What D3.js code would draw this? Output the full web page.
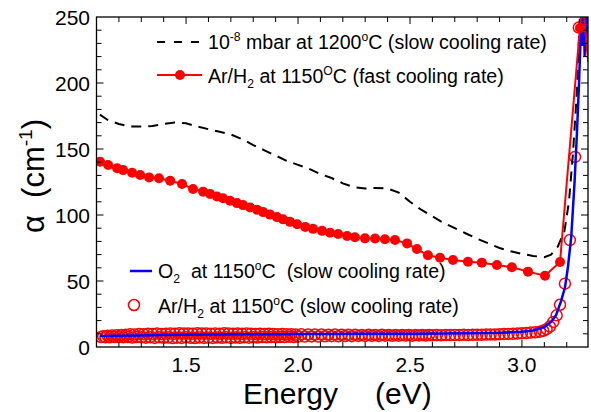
<!DOCTYPE html>
<html>
<head>
<meta charset="utf-8">
<script src="https://cdn.jsdelivr.net/npm/d3@7.9.0/dist/d3.min.js"></script>
<style>
	html, body { margin: 0; padding: 0; background: #fff; }
	svg { display: block; font-family: "Liberation Sans", Arial, Helvetica, sans-serif; }
	svg text { white-space: pre; }
</style>
</head>
<body>
<svg id="chart" width="591" height="412"></svg>
<script>
// 10^-8 mbar at 1200C, slow cooling (dashed black)
const vacEnergy = [1.115, 1.15, 1.2, 1.25, 1.3, 1.35, 1.4, 1.45, 1.5, 1.55, 1.6, 1.65, 1.7, 1.75, 1.8, 1.85, 1.9, 1.95, 2.0, 2.05, 2.1, 2.15, 2.2, 2.25, 2.3, 2.35, 2.4, 2.45, 2.5, 2.55, 2.6, 2.65, 2.7, 2.75, 2.8, 2.85, 2.9, 2.95, 3.0, 3.05, 3.1, 3.13, 3.16, 3.19, 3.21, 3.228, 3.246, 3.256, 3.264];
const vacAlpha = [176, 172, 169, 167, 167, 167.5, 169, 170, 169.5, 167, 165, 163, 161, 157.5, 153, 149, 145, 141, 138, 135, 131, 128, 124, 121, 120, 120.5, 120, 117, 110, 104, 99, 94, 90, 86, 82, 78.5, 75, 72.5, 70.5, 69, 68, 70, 76, 88, 110, 147, 195, 240, 268];

// Ar/H2 at 1150C, fast cooling (red line + filled dots)
const fastEnergy = [1.116, 1.152, 1.192, 1.219, 1.259, 1.295, 1.335, 1.379, 1.429, 1.482, 1.531, 1.576, 1.607, 1.638, 1.665, 1.696, 1.727, 1.754, 1.786, 1.817, 1.844, 1.875, 1.906, 1.933, 1.964, 1.996, 2.032, 2.067, 2.107, 2.143, 2.179, 2.219, 2.254, 2.299, 2.344, 2.388, 2.433, 2.487, 2.531, 2.58, 2.634, 2.692, 2.759, 2.821, 2.888, 2.955, 3.027, 3.103, 3.17, 3.259];
const fastAlpha = [140.4, 137.9, 135.4, 134, 132, 130.3, 128.5, 127.8, 126, 123.5, 119.7, 117.7, 116, 114, 112.7, 110.8, 109, 107.5, 105.7, 104, 102.2, 100.3, 98.4, 96.7, 94.8, 93, 91, 89.5, 88, 86.6, 85.6, 84.1, 83.1, 82.3, 82.2, 81.6, 81, 78.5, 74.2, 69.5, 67.6, 65.9, 64.6, 63.9, 62.1, 60.4, 57.1, 54, 64.4, 241.7];
// noisy tail past the edge, line only
const fastTailEnergy = [3.259, 3.272, 3.284, 3.296];
const fastTailAlpha = [241.7, 262, 238, 216];

// O2 at 1150C, slow cooling (blue line)
const o2Energy = [1.115, 1.2, 1.3, 1.4, 1.5, 1.6, 1.75, 1.9, 2.0, 2.15, 2.25, 2.4, 2.5, 2.65, 2.75, 2.85, 2.9, 2.95, 3.0, 3.05, 3.1, 3.13, 3.152, 3.175, 3.192, 3.205, 3.22, 3.235, 3.245, 3.255, 3.262, 3.268, 3.272, 3.276, 3.28, 3.284, 3.288, 3.292, 3.296];
const o2Alpha = [8.3, 8.5, 8.8, 9.0, 9.2, 9.4, 9.6, 9.7, 9.8, 9.9, 10, 10, 10.1, 10.2, 10.4, 10.6, 10.8, 11.1, 11.5, 12.5, 15, 19, 24, 35, 45, 60, 83, 125, 160, 200, 235, 262, 228, 258, 220, 256, 224, 254, 230];

// Ar/H2 at 1150C, slow cooling (red open circles) - dense at low energy
const slowEnergy = [
	1.12, 1.13, 1.14, 1.15, 1.16, 1.17, 1.18, 1.19, 1.20, 1.21,
	1.22, 1.23, 1.24, 1.25, 1.26, 1.27, 1.28, 1.29, 1.30, 1.31,
	1.32, 1.33, 1.34, 1.35, 1.36, 1.37, 1.38, 1.39, 1.40, 1.41,
	1.42, 1.43, 1.44, 1.45, 1.46, 1.47, 1.48, 1.49, 1.50, 1.51,
	1.52, 1.53, 1.54, 1.55, 1.56, 1.57, 1.58, 1.59, 1.60, 1.61,
	1.62, 1.63, 1.64, 1.65, 1.66, 1.67, 1.68, 1.69, 1.70, 1.71,
	1.72, 1.73, 1.74, 1.75, 1.76, 1.77, 1.78, 1.79, 1.80, 1.81,
	1.82, 1.83, 1.84, 1.85, 1.86, 1.87, 1.88, 1.89, 1.90, 1.91,
	1.92, 1.93, 1.94, 1.95, 1.96, 1.97, 1.98, 1.99,
	2.000, 2.015, 2.030, 2.045, 2.060, 2.075, 2.090, 2.105, 2.120, 2.135,
	2.150, 2.165, 2.180, 2.195, 2.210, 2.225, 2.240, 2.255, 2.270, 2.285,
	2.300, 2.315, 2.330, 2.345, 2.360, 2.375, 2.390, 2.405, 2.420, 2.435,
	2.450, 2.465, 2.480, 2.495, 2.510, 2.525, 2.540, 2.555, 2.570, 2.585,
	2.60, 2.62, 2.64, 2.66, 2.68, 2.70, 2.72, 2.74, 2.76, 2.78,
	2.80, 2.82, 2.84, 2.86, 2.88, 2.90, 2.92, 2.94, 2.96, 2.98,
	3.00, 3.02, 3.04, 3.06, 3.08,
	3.095, 3.11, 3.125, 3.14, 3.155, 3.17, 3.192, 3.214, 3.237, 3.254,
];
const slowAlpha = [
	7.6, 8.2, 7.3, 8.5, 7.4, 8.7, 7.6, 8.9, 7.5, 9.1,
	7.4, 9.3, 7.6, 9.6, 7.2, 9.4, 7.5, 9.8, 7.3, 9.7,
	7.1, 10.0, 7.4, 9.8, 6.9, 10.2, 7.3, 9.9, 7.0, 10.1,
	7.2, 10.3, 6.8, 10.0, 7.1, 10.4, 6.9, 10.2, 7.3, 10.3,
	7.0, 10.1, 6.8, 10.4, 7.2, 10.2, 6.9, 10.3, 7.1, 10.0,
	6.9, 10.3, 7.2, 10.1, 7.0, 10.4, 7.3, 10.2, 6.9, 10.1,
	7.2, 10.2, 7.0, 10.0, 7.3, 10.3, 7.1, 10.1, 7.4, 9.9,
	7.2, 10.1, 7.5, 9.8, 7.3, 10.0, 7.6, 9.9, 7.4, 9.7,
	7.6, 9.8, 7.5, 9.6, 7.8, 9.7, 7.6, 9.5,
	7.8, 9.6, 7.9, 9.5, 8.0, 9.4, 7.9, 9.5, 8.1, 9.3,
	8.2, 9.4, 8.1, 9.3, 8.3, 9.2, 8.2, 9.3, 8.4, 9.1,
	8.4, 9.2, 8.5, 9.1, 8.4, 9.2, 8.6, 9.0, 8.5, 9.1,
	8.6, 9.0, 8.7, 9.1, 8.6, 9.0, 8.8, 9.1, 8.7, 9.0,
	8.9, 9.0, 8.9, 9.1, 9.0, 9.1, 9.0, 9.2, 9.1, 9.2,
	9.3, 9.3, 9.4, 9.5, 9.5, 9.6, 9.8, 9.9, 10.0, 10.2,
	10.4, 10.6, 10.9, 11.2, 11.6,
	12.3, 13.5, 15.5, 19, 24, 32, 48, 81, 144, 242,
];

const xMajorTicks = [1.5, 2.0, 2.5, 3.0];
const yMajorTicks = [0, 50, 100, 150, 200, 250];

const plot = { left: 96.5, right: 588, top: 17, bottom: 347 };

const svg = d3.select('#chart');

const x = d3.scaleLinear().domain([1.1, 3.295]).range([plot.left, plot.right]);
const y = d3.scaleLinear().domain([0, 250]).range([plot.bottom, plot.top]);

const zip = (es, vs) => es.map((e, i) => ({ e, v: vs[i] }));
const line = d3.line().x((d) => x(d.e)).y((d) => y(d.v));

svg.append('clipPath').attr('id', 'clip')
	.append('rect')
	.attr('x', plot.left).attr('y', plot.top)
	.attr('width', plot.right - plot.left).attr('height', plot.bottom - plot.top);

const g = svg.append('g').attr('clip-path', 'url(#clip)');

// open circles first, everything else sits on top
g.append('g').selectAll('circle')
	.data(zip(slowEnergy, slowAlpha))
	.join('circle')
	.attr('cx', (d) => x(d.e))
	.attr('cy', (d) => y(d.v))
	.attr('r', 5.5)
	.attr('fill', 'none')
	.attr('stroke', '#ff0000')
	.attr('stroke-width', 1.5);

g.append('path')
	.attr('d', line(zip(vacEnergy, vacAlpha)))
	.attr('fill', 'none')
	.attr('stroke', '#000')
	.attr('stroke-width', 2)
	.attr('stroke-dasharray', '10,7');

g.append('path')
	.attr('d', line(zip(o2Energy, o2Alpha)))
	.attr('fill', 'none')
	.attr('stroke', '#0000ff')
	.attr('stroke-width', 2.5);

g.append('path')
	.attr('d', line(zip(fastEnergy, fastAlpha).concat(zip(fastTailEnergy, fastTailAlpha).slice(1))))
	.attr('fill', 'none')
	.attr('stroke', '#ff0000')
	.attr('stroke-width', 2);

g.append('g').selectAll('circle')
	.data(zip(fastEnergy, fastAlpha))
	.join('circle')
	.attr('cx', (d) => x(d.e))
	.attr('cy', (d) => y(d.v))
	.attr('r', 5)
	.attr('fill', '#ff0000');

// frame + inward ticks on all four sides
svg.append('rect')
	.attr('x', plot.left).attr('y', plot.top)
	.attr('width', plot.right - plot.left).attr('height', plot.bottom - plot.top)
	.attr('fill', 'none').attr('stroke', '#000').attr('stroke-width', 1.3);

const xTicks = d3.range(12, 33).map((d) => d / 10);
const yTicks = d3.range(10, 250, 10);

const tickG = svg.append('g').attr('stroke', '#000').attr('stroke-width', 1);
xTicks.forEach((t) => {
	const len = xMajorTicks.includes(t) ? 7 : 5;
	tickG.append('line').attr('x1', x(t)).attr('x2', x(t)).attr('y1', plot.bottom).attr('y2', plot.bottom - len);
	tickG.append('line').attr('x1', x(t)).attr('x2', x(t)).attr('y1', plot.top).attr('y2', plot.top + len);
});
yTicks.forEach((t) => {
	const len = yMajorTicks.includes(t) ? 7 : 5;
	tickG.append('line').attr('x1', plot.left).attr('x2', plot.left + len).attr('y1', y(t)).attr('y2', y(t));
	tickG.append('line').attr('x1', plot.right).attr('x2', plot.right - len).attr('y1', y(t)).attr('y2', y(t));
});

svg.append('g').selectAll('text')
	.data(xMajorTicks)
	.join('text')
	.attr('x', (d) => x(d))
	.attr('y', 372)
	.attr('text-anchor', 'middle')
	.attr('font-size', 21)
	.text((d) => d3.format('.1f')(d));

svg.append('g').selectAll('text')
	.data(yMajorTicks)
	.join('text')
	.attr('x', 90)
	.attr('y', (d) => y(d) + 7.5)
	.attr('text-anchor', 'end')
	.attr('font-size', 21)
	.text((d) => d);

// axis titles
const xTitle = svg.append('text').attr('y', 404).attr('font-size', 30);
xTitle.append('tspan').attr('x', 243).text('Energy');
xTitle.append('tspan').attr('x', 375).text('(eV)');

function richText(parent, px, py, size, parts) {
	const t = parent.append('text').attr('x', px).attr('y', py).attr('font-size', size);
	let shift = 0;
	parts.forEach((p) => {
		const target = p.sup ? -size * 0.4 : p.sub ? size * 0.25 : 0;
		t.append('tspan')
			.attr('dy', target - shift)
			.attr('font-size', p.sup || p.sub ? size * 0.62 : size)
			.text(p.t);
		shift = target;
	});
	return t;
}

svg.append('g')
	.attr('transform', 'translate(44,176) rotate(-90)')
	.call((gg) => {
		const t = richText(gg, 0, 0, 31, [{ t: 'α  (cm' }, { t: '-1', sup: true }, { t: ')' }]);
		t.attr('text-anchor', 'middle');
	});

// legends
const legend = svg.append('g');
legend.append('line').attr('x1', 157).attr('x2', 202).attr('y1', 42).attr('y2', 42)
	.attr('stroke', '#000').attr('stroke-width', 2).attr('stroke-dasharray', '8,9');
richText(legend, 208, 49, 19.6, [{ t: '10' }, { t: '-8', sup: true }, { t: ' mbar at 1200' }, { t: 'o', sup: true }, { t: 'C (slow cooling rate)' }]);

legend.append('line').attr('x1', 157).attr('x2', 202).attr('y1', 75).attr('y2', 75)
	.attr('stroke', '#ff0000').attr('stroke-width', 2);
legend.append('circle').attr('cx', 180).attr('cy', 75).attr('r', 5).attr('fill', '#ff0000');
richText(legend, 208, 83, 19.6, [{ t: 'Ar/H' }, { t: '2', sub: true }, { t: ' at 1150' }, { t: 'O', sup: true }, { t: 'C (fast cooling rate)' }]);

legend.append('line').attr('x1', 130).attr('x2', 152).attr('y1', 271).attr('y2', 271)
	.attr('stroke', '#0000ff').attr('stroke-width', 2.5);
richText(legend, 158, 278, 19.6, [{ t: 'O' }, { t: '2', sub: true }, { t: '  at 1150' }, { t: 'o', sup: true }, { t: 'C  (slow cooling rate)' }]);

legend.append('circle').attr('cx', 134).attr('cy', 305).attr('r', 5.5)
	.attr('fill', 'none').attr('stroke', '#ff0000').attr('stroke-width', 1.6);
richText(legend, 158, 313, 19.6, [{ t: 'Ar/H' }, { t: '2', sub: true }, { t: ' at 1150' }, { t: 'o', sup: true }, { t: 'C (slow cooling rate)' }]);
</script>
</body>
</html>
